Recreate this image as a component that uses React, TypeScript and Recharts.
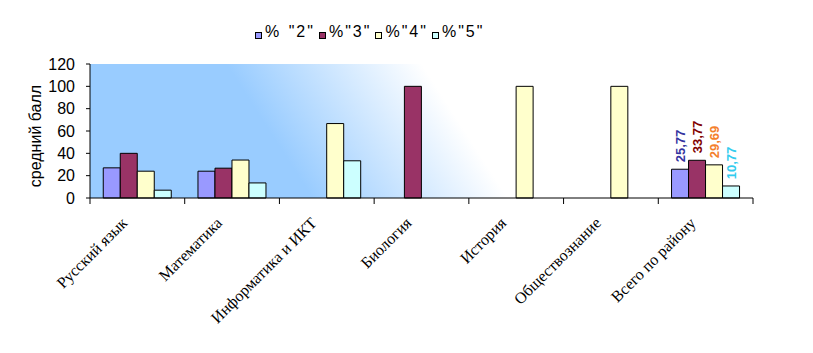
import React from 'react';
import { BarChart, Bar, XAxis, YAxis, CartesianGrid } from 'recharts';

const categories = ['Русский язык', 'Математика', 'Информатика и ИКТ', 'Биология', 'История', 'Обществознание', 'Всего по району'];
const seriesNames = ['% "2"', '%"3"', '%"4"', '%"5"'];
const pct2: (number | null)[] = [27, 24, null, null, null, null, 25.77];
const pct3: (number | null)[] = [40, 26.7, null, 100, null, null, 33.77];
const pct4: (number | null)[] = [24, 34, 66.67, null, 100, 100, 29.69];
const pct5: (number | null)[] = [7, 13.5, 33.33, null, null, null, 10.77];
const yTicks = [0, 20, 40, 60, 80, 100, 120];

const seriesValues = [pct2, pct3, pct4, pct5];
const seriesColors = ['#9999FF', '#993366', '#FFFFCC', '#CCFFFF'];
const labelColors = ['#3333A0', '#800000', '#F4802C', '#33CCEE'];
const keys = ['s2', 's3', 's4', 's5'];
const lastIndex = categories.length - 1;

const MARGIN = { top: 56, right: 52, left: 32, bottom: 5 };
const CATEGORY_GAP = 0.14;
const Y_MAX = yTicks[yTicks.length - 1];

const data = categories.map((name, i) => {
  const row: any = { name };
  keys.forEach((k, j) => { row[k] = seriesValues[j][i]; });
  return row;
});

function XTick(props: any) {
  const { x, y, payload, index, visibleTicksCount, width } = props;
  const count = visibleTicksCount || categories.length;
  const w = typeof width === 'number' && width > 0 ? width : 663;
  const bw = w / count;
  const left = x - bw / 2;
  const ax = x - 9;
  const ay = y + 26;
  let labels: React.ReactNode = null;
  if (index === lastIndex) {
    const n = keys.length;
    const barW = Math.floor((bw * (1 - 2 * CATEGORY_GAP)) / n);
    const plotH = y - MARGIN.top;
    labels = seriesValues.map((vals, j) => {
      const v = vals[lastIndex];
      if (v == null) return null;
      const text = String(v).replace('.', ',');
      const cx = Math.round(x + (j - (n - 1) / 2) * barW);
      const cy = Math.round(y - (v / Y_MAX) * plotH - 7 - 16);
      return (
        <text
          key={j}
          x={cx}
          y={cy}
          transform={`rotate(-90 ${cx} ${cy})`}
          textAnchor="middle"
          dominantBaseline="central"
          fontFamily="'Liberation Sans', Arial, sans-serif"
          fontWeight="bold"
          fontSize={13}
          fill={labelColors[j]}
        >
          {text}
        </text>
      );
    });
  }
  return (
    <g>
      <line x1={left} x2={left} y1={y} y2={y + 6} stroke="#000" strokeWidth={1} />
      {index === count - 1 && (
        <line x1={x + bw / 2} x2={x + bw / 2} y1={y} y2={y + 6} stroke="#000" strokeWidth={1} />
      )}
      <text
        x={ax}
        y={ay}
        textAnchor="end"
        transform={`rotate(-45 ${ax} ${ay})`}
        fontFamily="'Liberation Serif', 'Times New Roman', serif"
        fontSize={16}
        fill="#000"
      >
        {payload.value}
      </text>
      {labels}
    </g>
  );
}

function YLabel(props: any) {
  const vb = props.viewBox || { x: 32, y: 56, width: 50, height: 134 };
  const cx = vb.x - 5;
  const cy = vb.y + vb.height / 2 + 5;
  return (
    <text
      x={cx}
      y={cy}
      transform={`rotate(-90 ${cx} ${cy})`}
      textAnchor="middle"
      dominantBaseline="central"
      fontFamily="'Liberation Sans', Arial, sans-serif"
      fontSize={16}
      fill="#000"
    >
      средний балл
    </text>
  );
}

export default function App() {
  return (
    <div style={{ position: 'relative', width: 797, height: 330 }}>
      <div
        style={{
          position: 'absolute',
          top: 15,
          left: 247,
          display: 'flex',
          alignItems: 'center',
          fontFamily: "'Liberation Sans', Arial, sans-serif",
          fontSize: 16,
          lineHeight: '18px',
          letterSpacing: '2px',
          wordSpacing: '1px',
          color: '#000',
          whiteSpace: 'nowrap',
          zIndex: 2,
        }}
      >
        {seriesNames.map((n, i) => (
          <div key={n} style={{ display: 'flex', alignItems: 'center', marginRight: 4 }}>
            <span
              style={{
                display: 'inline-block',
                width: 5,
                height: 5,
                background: seriesColors[i],
                border: '1px solid #000',
                marginRight: 3,
                position: 'relative',
                top: 3,
              }}
            />
            <span>{n}</span>
          </div>
        ))}
      </div>
      <BarChart
        width={797}
        height={330}
        data={data}
        margin={MARGIN}
        barCategoryGap={`${CATEGORY_GAP * 100}%`}
        barGap={0}
      >
        <defs>
          <linearGradient id="bgGrad" x1="0" y1="1" x2="1" y2="0.87">
            <stop offset="0" stopColor="#99CCFF" />
            <stop offset="0.33" stopColor="#99CCFF" />
            <stop offset="0.62" stopColor="#FFFFFF" />
            <stop offset="1" stopColor="#FFFFFF" />
          </linearGradient>
        </defs>
        <CartesianGrid horizontal={false} vertical={false} fill="url(#bgGrad)" stroke="none" />
        <XAxis
          dataKey="name"
          interval={0}
          height={135}
          tickSize={0}
          tickMargin={0}
          tickLine={false}
          axisLine={{ stroke: '#000' }}
          tick={<XTick />}
        />
        <YAxis
          width={50}
          domain={[0, Y_MAX]}
          ticks={yTicks}
          interval={0}
          tickSize={4}
          tickMargin={11}
          axisLine={{ stroke: '#000' }}
          tickLine={{ stroke: '#000' }}
          tick={{ fill: '#000', fontSize: 16, fontFamily: "'Liberation Sans', Arial, sans-serif" }}
          label={<YLabel />}
        />
        {keys.map((k, i) => (
          <Bar
            key={k}
            dataKey={k}
            name={seriesNames[i]}
            fill={seriesColors[i]}
            stroke="#000"
            strokeWidth={1}
            isAnimationActive={false}
          />
        ))}
      </BarChart>
    </div>
  );
}
